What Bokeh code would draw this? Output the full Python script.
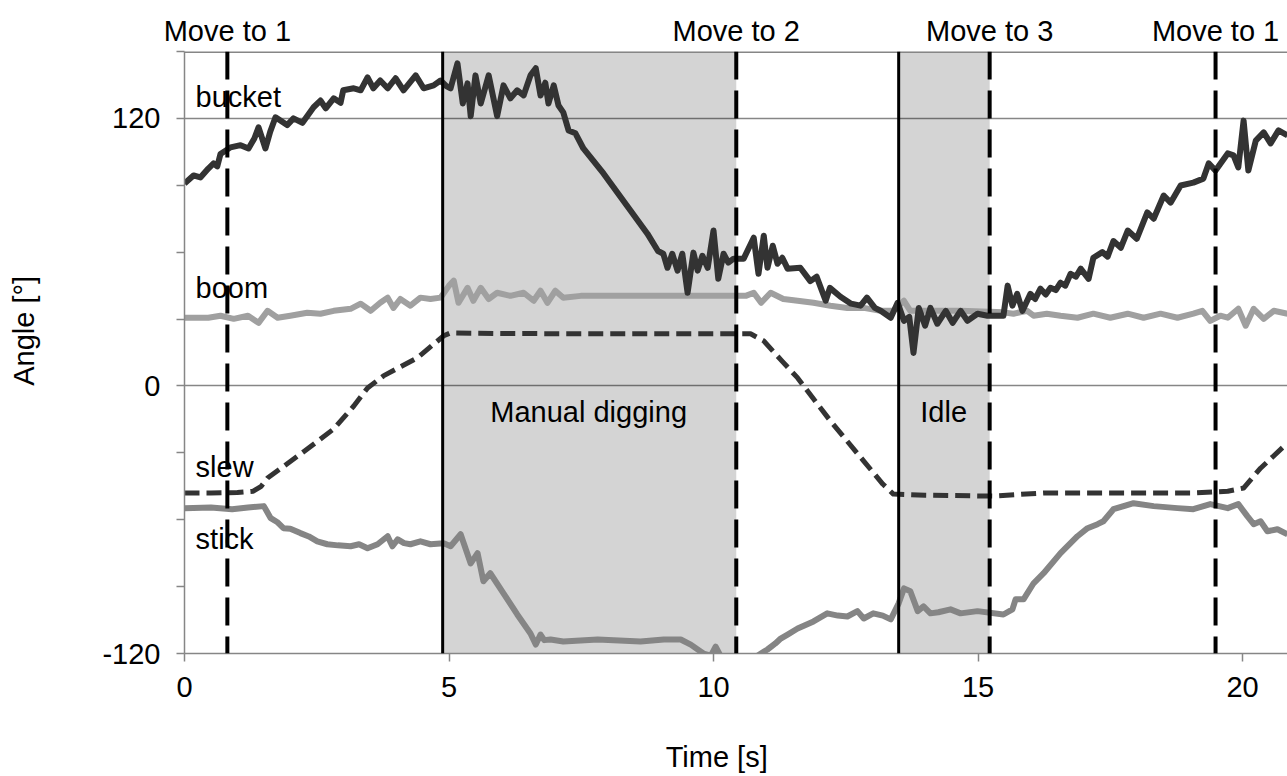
from bokeh.plotting import figure
from bokeh.models import Range1d, FixedTicker, Span, BoxAnnotation, Label, LinearAxis
from bokeh.embed import file_html
from bokeh.resources import INLINE

# ---------------- data ----------------
bucket_t = [0.0, 0.17, 0.3, 0.45, 0.55, 0.62, 0.68, 0.87, 1.06, 1.21, 1.32, 1.4, 1.53, 1.62, 1.72, 1.94,
            2.06, 2.23, 2.44, 2.57, 2.67, 2.82, 2.95, 3.0, 3.2, 3.33, 3.46, 3.57, 3.7, 3.84, 3.99, 4.14,
            4.37, 4.52, 4.71, 4.84, 4.95, 5.03, 5.16, 5.26, 5.35, 5.41, 5.5, 5.6, 5.75, 5.91, 6.03, 6.16,
            6.29, 6.41, 6.54, 6.64, 6.73, 6.82, 6.88, 6.98, 7.07, 7.16, 7.26, 7.39, 7.54, 7.92, 8.43, 8.75,
            8.95, 9.05, 9.13, 9.22, 9.32, 9.41, 9.51, 9.62, 9.70, 9.79, 9.89, 10.0, 10.09, 10.19, 10.28,
            10.38, 10.57, 10.76, 10.85, 10.95, 11.02, 11.12, 11.21, 11.30, 11.40, 11.64, 11.83, 11.95,
            12.12, 12.2, 12.4, 12.6, 12.78, 12.9, 13.05, 13.16, 13.35, 13.48, 13.6, 13.7, 13.78, 13.88,
            14.0, 14.1, 14.23, 14.39, 14.52, 14.67, 14.8, 14.99, 15.18, 15.48, 15.56, 15.65, 15.74, 15.84,
            15.99, 16.08, 16.18, 16.28, 16.37, 16.47, 16.56, 16.65, 16.75, 16.85, 16.94, 17.09, 17.18,
            17.35, 17.45, 17.56, 17.7, 17.83, 18.0, 18.2, 18.32, 18.51, 18.64, 18.83, 19.07, 19.26, 19.36,
            19.49, 19.72, 19.83, 19.92, 20.02, 20.11, 20.25, 20.4, 20.53, 20.68, 20.85]
bucket_v = [90.8, 94.4, 93.5, 97.5, 99.8, 98.5, 104, 107, 108, 106.5, 111, 116, 106.5, 114, 120.5, 117,
            120, 118, 125, 128, 124.5, 129, 127, 132.6, 133.5, 132.6, 138.4, 133.5, 137, 133.5, 138, 132.6,
            139.3, 133.5, 134.8, 137, 134.5, 133.5, 144.7, 126.7, 135.7, 121, 139.3, 126.7, 139.3, 121,
            134.8, 129, 132.6, 130.3, 139.3, 142.5, 130.3, 136, 126.7, 134.8, 125.8, 122.7, 114.6, 113.3,
            106.5, 95.3, 78.7, 68.3, 60.5, 59.3, 53.0, 59.3, 51.7, 59.3, 41.8, 59.8, 51.7, 58.4, 53.0,
            69.7, 48.1, 59.3, 55.3, 57.1, 57.1, 66.5, 50.3, 67.4, 53.0, 62.9, 54.8, 57.5, 52.6, 53.0, 47,
            49, 38.2, 44, 40, 36.9, 36, 39.6, 35, 33.7, 30.6, 37.3, 29.2, 31, 14.8, 35, 27, 35, 27.9, 33.7,
            28.3, 33.7, 29.2, 32.4, 31.5, 31.5, 45, 36, 41.3, 33.7, 41.3, 39, 43.6, 41, 44, 43, 46.3, 45,
            50.3, 49, 52.6, 48, 57.5, 60, 58, 65, 62, 69.7, 66, 77.8, 75, 85.4, 82.2, 89.9, 91.2, 93, 99.8,
            96.6, 104.3, 103.4, 98, 119, 96.6, 110, 113.7, 108.8, 114.6, 112.4]

boom_t = [0.0, 0.45, 0.68, 0.93, 1.2, 1.4, 1.57, 1.76, 2.0, 2.32, 2.57, 2.82, 3.14, 3.33, 3.52, 3.7, 3.84,
          3.95, 4.08, 4.27, 4.46, 4.65, 4.84, 5.0, 5.09, 5.18, 5.35, 5.46, 5.6, 5.75, 5.91, 6.16, 6.41,
          6.6, 6.73, 6.86, 7.01, 7.16, 7.49, 8.43, 9.7, 10.43, 10.62, 10.76, 10.9, 11.08, 11.32, 11.59,
          11.89, 12.21, 12.53, 12.84, 13.16, 13.4, 13.6, 13.72, 14.67, 15.48, 15.67, 15.93, 16.05, 16.3,
          16.56, 16.88, 17.18, 17.5, 17.83, 18.13, 18.45, 18.77, 19.07, 19.24, 19.39, 19.58, 19.72, 19.92,
          20.06, 20.21, 20.4, 20.59, 20.85]
boom_v = [30.6, 30.6, 31.5, 30.1, 31.5, 28.3, 33.7, 30.6, 31.5, 32.8, 32.4, 33.7, 34.6, 36.9, 33.7, 37.3,
          39.6, 35, 39, 36, 39.6, 39, 39.6, 45, 47.2, 37.3, 44, 38.2, 44, 39, 41.8, 40.4, 41.8, 38.2, 42.7,
          37.3, 42.7, 39.6, 40.4, 40.4, 40.4, 40.4, 40.5, 41.8, 37.3, 41.8, 39, 38.2, 37.3, 36, 35, 35,
          33.7, 33.7, 38.2, 33.7, 33.7, 33, 32.4, 33.7, 31.5, 32.4, 31.5, 30.6, 32.4, 30.6, 32.4, 30.6,
          32.4, 30.6, 32.4, 33.7, 29.2, 31.5, 30.6, 34.6, 27, 34.6, 30.1, 33.7, 32.4]

slew_t = [0.0, 0.5, 1.0, 1.3, 1.45, 1.57, 2.19, 2.82, 3.2, 3.46, 3.76, 4.4, 4.9, 5.03, 6.0, 8.0, 10.43,
          10.7, 10.95, 11.3, 11.59, 12.21, 12.84, 13.2, 13.4, 14.0, 15.29, 16.24, 17.83, 19.07, 19.72,
          20.02, 20.34, 20.85]
slew_v = [-48, -48, -47.8, -47.2, -45, -41.3, -30.6, -19.3, -9, -0.9, 4.5, 12.6, 22.5, 23.8, 23.5, 23.4,
          23.4, 23.4, 20.2, 11, 3.6, -15.7, -33.7, -44, -48.5, -49, -49.4, -48, -48, -48, -47.2, -45.8,
          -36.9, -25.6]

stick_t = [0.0, 0.5, 0.9, 1.2, 1.5, 1.63, 1.75, 1.87, 2.0, 2.19, 2.35, 2.51, 2.7, 2.9, 3.14, 3.3, 3.46,
           3.65, 3.84, 3.93, 4.03, 4.15, 4.27, 4.46, 4.65, 4.9, 5.03, 5.22, 5.41, 5.54, 5.65, 5.78, 6.03,
           6.29, 6.54, 6.64, 6.73, 6.8, 6.92, 7.16, 7.81, 8.62, 9.06, 9.38, 9.57, 9.81, 9.95, 10.04, 10.13,
           10.25, 10.6, 10.83, 11.02, 11.17, 11.27, 11.4, 11.59, 11.89, 12.15, 12.35, 12.53, 12.72, 12.84,
           13.02, 13.2, 13.35, 13.5, 13.6, 13.72, 13.86, 13.97, 14.1, 14.25, 14.48, 14.67, 14.99, 15.48,
           15.65, 15.71, 15.86, 16.05, 16.24, 16.56, 16.88, 17.07, 17.26, 17.37, 17.56, 17.94, 18.32,
           18.77, 19.07, 19.39, 19.72, 19.92, 20.09, 20.21, 20.34, 20.47, 20.66, 20.85]
stick_v = [-54.8, -54.5, -55.3, -54.5, -53.9, -59.3, -61, -63.8, -64, -66, -67.5, -69.7, -71, -71.5,
           -71.9, -71, -72.8, -71, -67.4, -71.9, -68.8, -70.5, -71, -69.7, -71, -70.6, -71.9, -66.5,
           -79.6, -75, -87.6, -84, -93, -102.5, -111, -116, -111.5, -114, -113.7, -114.6, -113.7, -114.6,
           -113.7, -113.7, -116, -120, -121, -116.9, -121, -124, -124, -121, -118.2, -115.5, -113.3,
           -111.5, -108.8, -105.6, -102, -103, -103.4, -101, -104.3, -102, -103, -104.7, -97.5, -90.8,
           -92.1, -101, -98.9, -102, -101.5, -100.2, -102, -101, -102.5, -100.2, -95.7, -95.7, -88.5,
           -84, -75, -67.4, -63.8, -62, -60.7, -55.3, -52.6, -53.9, -54.8, -55.3, -53, -54.8, -53, -58.4,
           -62, -60.7, -65.2, -64.3, -66.5]

phase_starts = [4.88, 13.5]          # solid lines (start of shaded phase)
phase_ends = [10.43, 15.22]          # dashed lines ending shaded phase
move_times = [0.81, 10.43, 15.22, 19.49]
move_labels = ["Move to 1", "Move to 2", "Move to 3", "Move to 1"]
phase_names = ["Manual digging", "Idle"]
phase_label_x = [7.64, 14.35]
series_names = ["bucket", "boom", "slew", "stick"]
series_label_y = [129.4, 44.0, -36.4, -68.8]

x_ticks = [0, 5, 10, 15, 20]
y_ticks = [-120, 0, 120]
y_minor = [-90, -60, -30, 30, 60, 90, 150]
x_title = "Time [s]"
x_title_pos = 10.06
y_title = "Angle [°]"
y_title_pos = 24.7

FONT = "Liberation Sans"
FS = "29px"
AX = "#868686"

p = figure(width=1287, height=776, x_range=Range1d(0, 20.85), y_range=Range1d(-120, 150),
           output_backend="svg", toolbar_location=None,
           min_border_left=184, min_border_right=0, min_border_top=51, min_border_bottom=123)
p.outline_line_color = None
p.background_fill_color = "white"

# main axes
p.xaxis.ticker = FixedTicker(ticks=x_ticks, minor_ticks=[])
p.yaxis.ticker = FixedTicker(ticks=y_ticks, minor_ticks=y_minor)
p.yaxis.major_label_overrides = {v: str(v) for v in y_ticks}
p.xaxis.major_label_overrides = {v: str(v) for v in x_ticks}
for ax in (p.xaxis[0], p.yaxis[0]):
    ax.axis_line_color = AX
    ax.axis_line_width = 1.5
    ax.major_tick_line_color = AX
    ax.major_tick_line_width = 1.5
    ax.major_tick_out = 8
    ax.major_tick_in = 0
    ax.minor_tick_line_color = AX
    ax.minor_tick_line_width = 1.5
    ax.minor_tick_out = 8
    ax.minor_tick_in = 0
    ax.major_label_text_font = FONT
    ax.major_label_text_font_size = FS
    ax.major_label_text_color = "black"
    ax.axis_label = None
p.yaxis.major_label_standoff = 16
p.xaxis.major_label_standoff = 15


def text_axis(ticks, labels, standoff, orientation="horizontal"):
    a = LinearAxis(ticker=FixedTicker(ticks=ticks, minor_ticks=[]),
                   major_label_overrides={t: s for t, s in zip(ticks, labels)})
    a.axis_line_color = None
    a.major_tick_line_color = None
    a.minor_tick_line_color = None
    a.major_tick_out = 0
    a.major_tick_in = 0
    a.minor_tick_out = 0
    a.minor_tick_in = 0
    a.major_label_standoff = standoff
    a.major_label_orientation = orientation
    a.major_label_text_font = FONT
    a.major_label_text_font_size = FS
    a.major_label_text_color = "black"
    return a


# phase labels above the plot, x title below, y title at left
p.add_layout(text_axis(move_times, move_labels, 5), "above")
p.add_layout(text_axis([x_title_pos], [x_title], 41), "below")
p.add_layout(text_axis([y_title_pos], [y_title], 59, "parallel"), "left")

p.xgrid.visible = False
p.ygrid.ticker = FixedTicker(ticks=[0, 120])
p.ygrid.grid_line_color = AX
p.ygrid.grid_line_width = 1.5
p.add_layout(Span(location=150, dimension="width", line_color=AX, line_width=3))

# shaded phases
for a, b in zip(phase_starts, phase_ends):
    p.add_layout(BoxAnnotation(left=a, right=b, fill_color="black", fill_alpha=0.17,
                               line_alpha=0, level="underlay"))

# series
p.line(boom_t, boom_v, line_color="#a0a0a0", line_width=6, line_join="round")
p.line(stick_t, stick_v, line_color="#858585", line_width=6, line_join="round")
p.line(slew_t, slew_v, line_color="#333333", line_width=5, line_dash="15 7", line_join="round")
p.line(bucket_t, bucket_v, line_color="#333333", line_width=6, line_join="round")

# phase boundary lines
for x in phase_starts:
    p.add_layout(Span(location=x, dimension="height", line_color="black", line_width=3))
for x in move_times:
    p.add_layout(Span(location=x, dimension="height", line_color="black", line_width=4,
                      line_dash="28 11"))

# texts inside the plot
for x, t in zip(phase_label_x, phase_names):
    p.add_layout(Label(x=x, y=-11.7, text=t, text_align="center", text_baseline="alphabetic",
                       text_font=FONT, text_font_size=FS, text_color="black"))
for y, t in zip(series_label_y, series_names):
    p.add_layout(Label(x=0.21, y=y, text=t, text_align="left", text_baseline="alphabetic",
                       text_font=FONT, text_font_size=FS, text_color="black"))

open("out.html", "w").write(file_html(p, INLINE))
